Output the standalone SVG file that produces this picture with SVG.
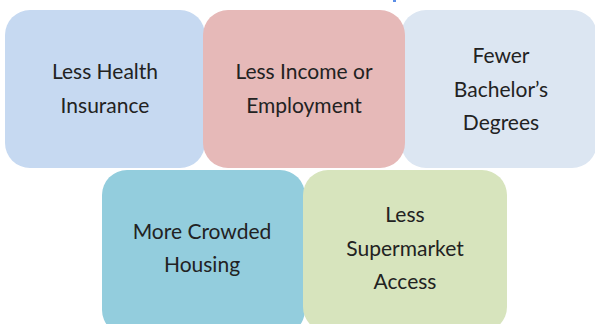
<svg xmlns="http://www.w3.org/2000/svg" width="595" height="324" viewBox="0 0 595 324">
  <style>
    .box { stroke: none; }
    .lbl { font-family: Lato, "Open Sans", "Liberation Sans", sans-serif; font-size: 21px; fill: #222222; text-anchor: middle; }
  </style>
  <rect x="0" y="0" width="595" height="324" fill="#ffffff"/>
  <rect x="393" y="0" width="3" height="2" fill="#5b8ee6"/>
  <g id="connectors"></g>
  <g id="node-health">
    <rect class="box" x="5" y="10" width="200" height="158" rx="25" ry="25" fill="#C6D9F1"/>
    <text class="lbl" x="105" y="79">Less Health</text>
    <text class="lbl" x="105" y="113">Insurance</text>
  </g>
  <g id="node-degrees">
    <rect class="box" x="401" y="10" width="196" height="158" rx="25" ry="25" fill="#DCE6F2"/>
    <text class="lbl" x="501" y="63">Fewer</text>
    <text class="lbl" x="501" y="97">Bachelor’s</text>
    <text class="lbl" x="501" y="130">Degrees</text>
  </g>
  <g id="node-income">
    <rect class="box" x="203" y="10" width="202" height="158" rx="25" ry="25" fill="#E6B9B8"/>
    <text class="lbl" x="304" y="79">Less Income or</text>
    <text class="lbl" x="304" y="113">Employment</text>
  </g>
  <g id="node-housing">
    <rect class="box" x="102" y="170" width="203" height="165" rx="25" ry="25" fill="#93CDDD"/>
    <text class="lbl" x="202" y="239">More Crowded</text>
    <text class="lbl" x="202" y="272">Housing</text>
  </g>
  <g id="node-supermarket">
    <rect class="box" x="303" y="170" width="204" height="162" rx="25" ry="25" fill="#D7E4BD"/>
    <text class="lbl" x="405" y="222">Less</text>
    <text class="lbl" x="405" y="256">Supermarket</text>
    <text class="lbl" x="405" y="289">Access</text>
  </g>
</svg>
